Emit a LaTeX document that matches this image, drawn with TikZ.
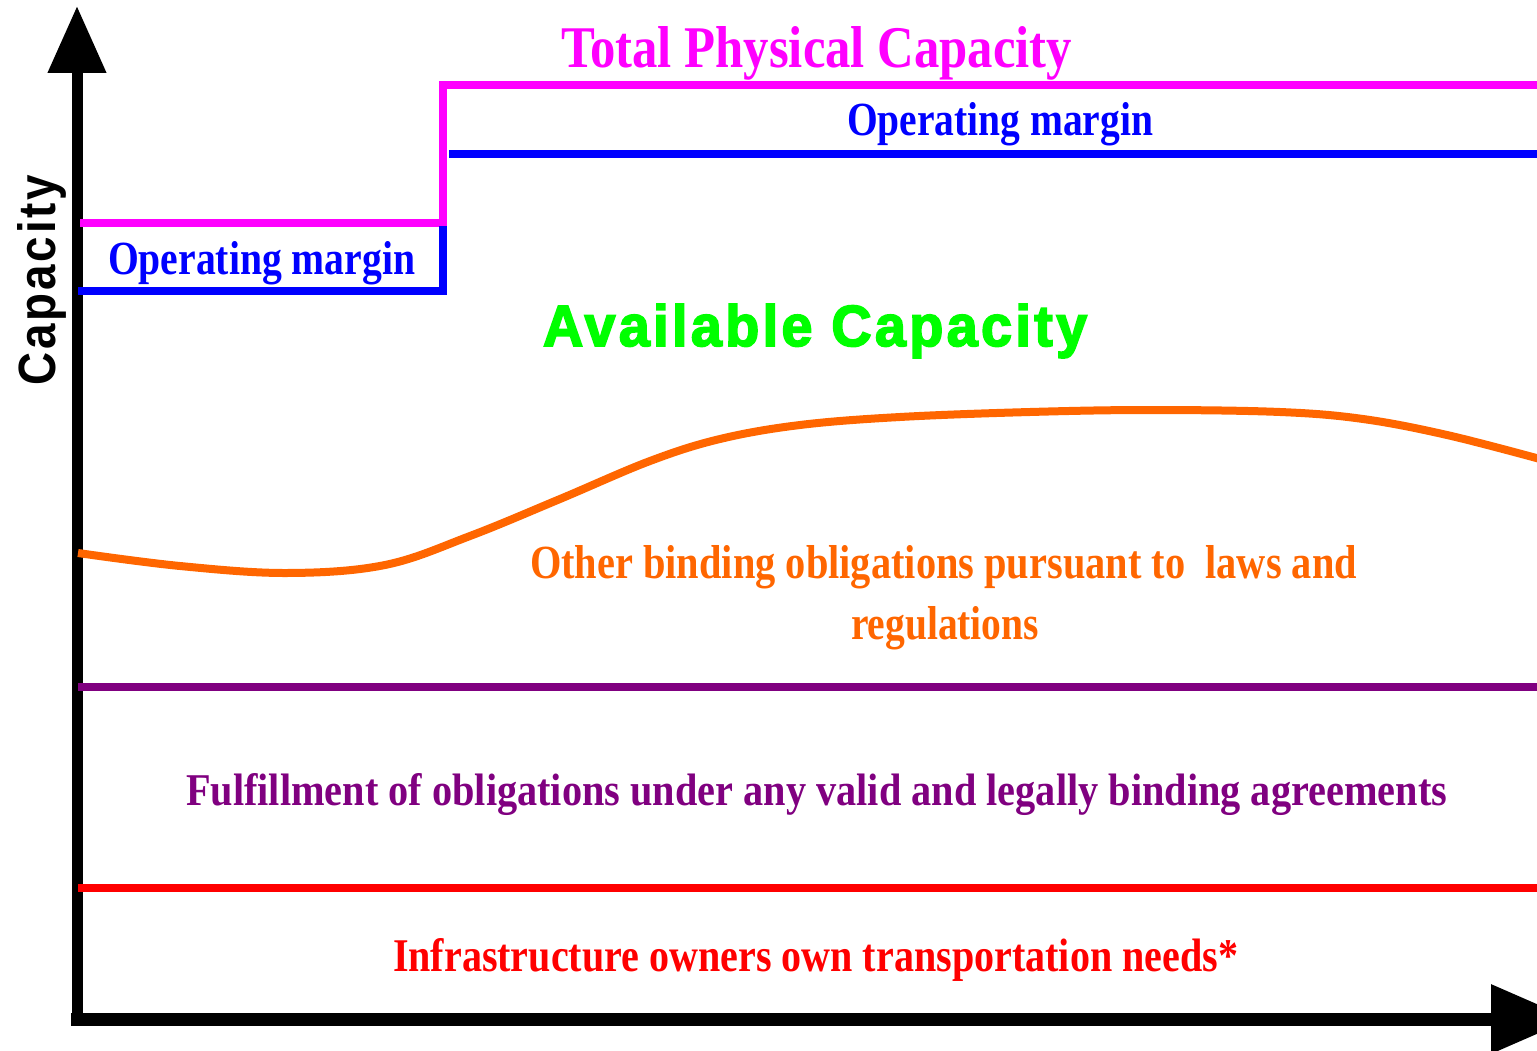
\documentclass[tikz,border=0pt]{standalone}
\usepackage{fontspec}
\setmainfont{Liberation Serif}
\newfontfamily\arialfont[LetterSpace=6,BoldFeatures={FakeBold=3}]{Liberation Sans}
\newfontfamily\arialplain[LetterSpace=6]{Liberation Sans}
\usetikzlibrary{arrows.meta}
\definecolor{cmag}{HTML}{FF00FF}
\definecolor{cblue}{HTML}{0000FF}
\definecolor{cgreen}{HTML}{00FF00}
\definecolor{corange}{HTML}{FF6600}
\definecolor{cpurple}{HTML}{800080}
\definecolor{cred}{HTML}{FF0000}
\begin{document}
\begin{tikzpicture}[x=1pt,y=-1pt,
  lbl/.style={anchor=base west, inner sep=0pt, outer sep=0pt},
  band/.style={line width=8pt},
  axis/.style={line width=#1, draw=black}]
\useasboundingbox (0,0) rectangle (1537,1051);
\clip (0,0) rectangle (1537,1051);
% named coordinates
\coordinate (origin) at (77,1019);
\coordinate (ytop) at (77,6);
\coordinate (ybot) at (77,1021);
\coordinate (xstart) at (71,1019);
\coordinate (xend) at (1572,1019);
% axes
\draw[axis=11pt, -{Triangle[width=56pt,length=67pt]}] (ybot) -- (ytop);
\draw[axis=13pt, -{Triangle[width=66pt,length=81pt]}] (xstart) -- (xend);
% magenta total capacity
\coordinate (m0) at (80,223);
\coordinate (m1) at (443,85);
\coordinate (m2) at (1545,85);
\draw[band, cmag] (m0) -| (m1) -- (m2);
% blue operating margin
\coordinate (b0) at (78,291);
\coordinate (b1) at (443,226);
\draw[band, cblue] (b0) -| (b1);
\coordinate (b2) at (449,154);
\coordinate (b3) at (1545,154);
\draw[band, cblue] (b2) -- (b3);
% purple and red
\coordinate (p0) at (78,687);
\coordinate (p1) at (1545,687);
\draw[band, cpurple] (p0) -- (p1);
\coordinate (r0) at (78,888);
\coordinate (r1) at (1545,888);
\draw[band, cred] (r0) -- (r1);
% orange curve
\draw[corange, line width=8pt] plot[smooth, tension=0.6] coordinates {
  (78,553) (180,566) (287,573) (385,565) (470,536) (560,499) (650,461)
  (720,439) (800,425) (900,417) (1030,412) (1150,410) (1280,412)
  (1363,419) (1447,435) (1540,459)};
% labels
\node[lbl, text=cmag] (tpc) at (561,68)
  {\bfseries\resizebox{511pt}{41pt}{Total Physical Capacity}};
\node[lbl, text=cblue] (om1) at (847,136)
  {\bfseries\resizebox{306pt}{33pt}{Operating margin}};
\node[lbl, text=cblue] (om2) at (108,275)
  {\bfseries\resizebox{307pt}{33pt}{Operating margin}};
\node[lbl, text=cgreen] (avail) at (543,346)
  {\arialfont\bfseries\resizebox{544pt}{42pt}{Available Capacity}};
\node[lbl, text=corange] (oth1) at (530,578)
  {\bfseries\resizebox{827pt}{33pt}{Other binding obligations pursuant to\ \ laws and}};
\node[lbl, text=corange] (oth2) at (851,639)
  {\bfseries\resizebox{188pt}{33pt}{regulations}};
\node[lbl, text=cpurple] (ful) at (186,805)
  {\bfseries\resizebox{1261pt}{32pt}{Fulfillment of obligations under any valid and legally binding agreements}};
\node[lbl, text=cred] (inf) at (393,971)
  {\bfseries\resizebox{845pt}{33pt}{Infrastructure owners own transportation needs*}};
\node[lbl, rotate=90, text=black] (cap) at (55,385)
  {\arialplain\bfseries\resizebox{210pt}{38pt}{Capacity}};
\end{tikzpicture}
\end{document}
